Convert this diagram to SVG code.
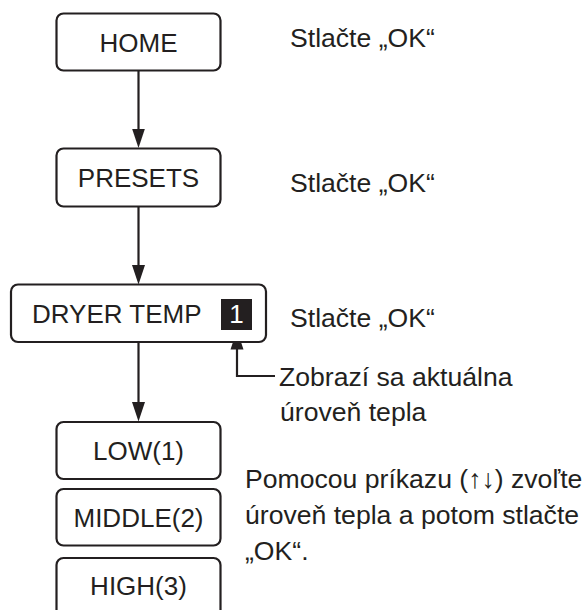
<svg xmlns="http://www.w3.org/2000/svg" width="585" height="610" viewBox="0 0 585 610">
<defs>
<style>
.box{fill:#fff;stroke:#231f20;stroke-width:2.2}
.t{font-family:"Liberation Sans",Arial,sans-serif;font-size:26px;fill:#231f20}
.n{font-size:26.6px}
.c{text-anchor:middle}
.ln{fill:none;stroke:#231f20;stroke-width:2.2}
</style>
<marker id="ah" markerUnits="userSpaceOnUse" markerWidth="20" markerHeight="14" viewBox="0 0 20 14" refX="14" refY="7" orient="auto">
<path d="M0,0.5 L19.5,7 L0,13.5 Z" fill="#231f20"/>
</marker>
</defs>
<rect width="585" height="610" fill="#fff"/>
<g id="connectors">
<path class="ln" d="M138.5,71 V142.5" marker-end="url(#ah)"/>
<path class="ln" d="M138.5,207 V279" marker-end="url(#ah)"/>
<path class="ln" d="M138.5,342 V416" marker-end="url(#ah)"/>
<path class="ln" d="M275,376 H237 V335.5" marker-end="url(#ah)"/>
</g>
<g id="home">
<rect class="box" x="56.5" y="13.5" width="164" height="57" rx="7"/>
<text class="t c" x="138.5" y="52">HOME</text>
</g>
<g id="presets">
<rect class="box" x="56.5" y="148.5" width="164" height="58" rx="7"/>
<text class="t c" x="138.5" y="187">PRESETS</text>
</g>
<g id="dryer">
<rect class="box" x="11" y="284.5" width="255" height="57.5" rx="7"/>
<text class="t" x="32" y="323">DRYER TEMP</text>
<rect x="221" y="299" width="31" height="31" fill="#231f20"/>
<text class="t c" x="236.5" y="323" style="fill:#fff">1</text>
</g>
<g id="low">
<rect class="box" x="56.5" y="422" width="164" height="57" rx="7"/>
<text class="t c" x="138.5" y="460">LOW(1)</text>
</g>
<g id="middle">
<rect class="box" x="56.5" y="489" width="164" height="56.5" rx="7"/>
<text class="t c" x="138.5" y="527">MIDDLE(2)</text>
</g>
<g id="high">
<rect class="box" x="56.5" y="558" width="164" height="70" rx="7"/>
<text class="t c" x="138.5" y="595">HIGH(3)</text>
</g>
<g id="notes">
<text class="t n" x="290" y="47">Stlačte „OK“</text>
<text class="t n" x="290" y="192">Stlačte „OK“</text>
<text class="t n" x="290" y="327">Stlačte „OK“</text>
<text class="t n" x="279" y="386">Zobrazí sa aktuálna</text>
<text class="t n" x="280" y="421">úroveň tepla</text>
<text class="t n" x="245" y="488">Pomocou príkazu (↑↓) zvoľte</text>
<text class="t n" x="245" y="524">úroveň tepla a potom stlačte</text>
<text class="t n" x="245" y="560">„OK“.</text>
</g>
</svg>
